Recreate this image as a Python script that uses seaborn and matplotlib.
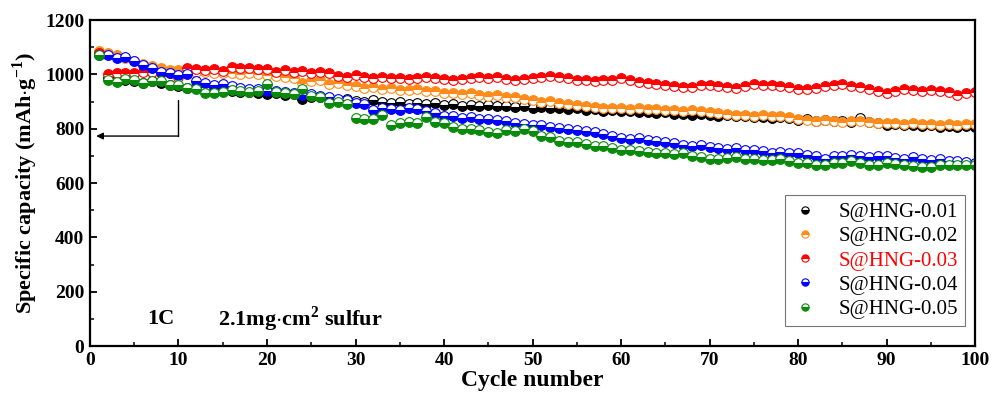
import numpy as np
import pandas as pd
import seaborn as sns
import matplotlib
matplotlib.use("Agg")
import matplotlib.pyplot as plt
from matplotlib.ticker import MultipleLocator

cycles = list(range(1, 101))

cap_001 = [1075, 985, 980, 978, 975, 970, 975, 970, 962, 958,
           950, 952, 942, 938, 940, 938, 935, 936, 930, 928,
           930, 925, 928, 910, 915, 918, 912, 905, 908, 902,
           898, 904, 900, 895, 898, 892, 895, 890, 893, 888,
           890, 885, 887, 884, 888, 882, 885, 880, 884, 878,
           880, 876, 878, 872, 875, 870, 872, 866, 868, 864,
           866, 860, 862, 858, 860, 856, 855, 852, 854, 850,
           848, 850, 846, 848, 844, 842, 840, 842, 838, 832,
           834, 830, 832, 828, 830, 826, 838, 824, 822, 815,
           816, 812, 814, 810, 812, 808, 810, 808, 810, 808]

cap_002 = [1085, 1078, 1070, 1062, 1050, 1040, 1030, 1022, 1016, 1015,
           1012, 1010, 1008, 1006, 1004, 1005, 1002, 1004, 1000, 998,
           995, 990, 985, 968, 975, 978, 965, 968, 960, 958,
           950, 952, 948, 950, 944, 942, 945, 940, 938, 930,
           932, 928, 930, 925, 922, 924, 918, 915, 910, 905,
           900, 902, 895, 890, 888, 882, 880, 878, 876, 875,
           874, 876, 872, 874, 870, 868, 866, 868, 864, 862,
           858, 855, 852, 850, 848, 850, 846, 848, 844, 835,
           832, 830, 832, 828, 826, 828, 830, 824, 822, 820,
           822, 818, 820, 816, 818, 815, 818, 814, 816, 818]

cap_003 = [1078, 1000, 1005, 1006, 1004, 1010, 1008, 1005, 1004, 992,
           1022, 1020, 1015, 1018, 1012, 1026, 1022, 1024, 1018, 1020,
           1008, 1015, 1008, 1012, 1006, 1010, 1004, 995, 990, 998,
           992, 988, 990, 985, 988, 982, 988, 992, 986, 982,
           978, 984, 988, 990, 986, 990, 984, 980, 982, 986,
           990, 995, 990, 985, 980, 978, 975, 980, 978, 985,
           980, 972, 968, 965, 962, 958, 952, 955, 960, 962,
           958, 955, 950, 958, 965, 962, 960, 958, 952, 948,
           945, 950, 958, 962, 965, 958, 952, 945, 938, 932,
           938, 945, 942, 938, 942, 940, 935, 925, 930, 935]

cap_004 = [1072, 1070, 1062, 1064, 1048, 1035, 1024, 1008, 1004, 998,
           1000, 975, 968, 962, 966, 958, 950, 948, 945, 940,
           938, 935, 930, 925, 928, 922, 918, 910, 905, 895,
           892, 870, 878, 872, 870, 875, 872, 865, 858, 848,
           845, 840, 842, 836, 835, 832, 828, 822, 818, 815,
           812, 808, 802, 798, 795, 792, 788, 780, 775, 765,
           762, 765, 760, 755, 750, 748, 740, 736, 740, 732,
           728, 725, 730, 722, 720, 718, 712, 715, 710, 712,
           705, 700, 690, 698, 700, 705, 698, 695, 700, 698,
           692, 690, 695, 688, 685, 688, 682, 680, 678, 675]

cap_005 = [1070, 978, 973, 983, 980, 968, 975, 975, 962, 960,
           950, 946, 932, 931, 935, 942, 940, 936, 938, 965,
           935, 930, 928, 948, 922, 918, 895, 898, 890, 840,
           835, 836, 852, 812, 822, 824, 820, 842, 825, 822,
           805, 798, 800, 795, 788, 785, 795, 792, 800, 790,
           772, 768, 755, 752, 750, 742, 738, 735, 728, 722,
           720, 718, 715, 712, 710, 708, 712, 700, 695, 690,
           688, 692, 695, 688, 690, 686, 684, 688, 682, 675,
           672, 668, 665, 672, 675, 680, 672, 668, 665, 672,
           670, 665, 662, 660, 658, 665, 668, 666, 668, 665]

labels = ["S@HNG-0.01", "S@HNG-0.02", "S@HNG-0.03", "S@HNG-0.04", "S@HNG-0.05"]
series = [cap_001, cap_002, cap_003, cap_004, cap_005]
colors = ["#000000", "#FF8C1A", "#FF0000", "#0000FF", "#0A8A0A"]
fills = ["bottom", "top", "top", "bottom", "bottom"]

sns.set_theme(style="ticks")
plt.rcParams["font.family"] = ["Liberation Serif", "DejaVu Serif"]
plt.rcParams["mathtext.fontset"] = "custom"
plt.rcParams["mathtext.rm"] = "Liberation Serif"
plt.rcParams["mathtext.bf"] = "Liberation Serif:bold"
for k in ["text.color", "axes.labelcolor", "xtick.color", "ytick.color",
          "axes.edgecolor"]:
    plt.rcParams[k] = "black"

fig = plt.figure(figsize=(9.92, 4.01), dpi=100)
ax = fig.add_axes([0.0907, 0.137, 0.8923, 0.813])

for lab, vals, col, fs in zip(labels, series, colors, fills):
    df = pd.DataFrame({"cycle": cycles, "cap": vals})
    sns.lineplot(data=df, x="cycle", y="cap", ax=ax, linestyle="", marker="o",
                 markersize=7.0, fillstyle=fs, color=col, markerfacecolor=col,
                 markerfacecoloralt="white", markeredgecolor=col,
                 markeredgewidth=0.8, label=lab)

# arrow annotation pointing to the left axis
ax.plot([10, 10], [905, 773], color="black", lw=1.0)
ax.annotate("", xy=(0.7, 773), xytext=(10, 773),
            arrowprops=dict(arrowstyle="-|>", color="black", lw=1.0,
                            mutation_scale=10, shrinkA=0, shrinkB=0))

ax.set_xlim(0, 100)
ax.set_ylim(0, 1200)
ax.xaxis.set_major_locator(MultipleLocator(10))
ax.xaxis.set_minor_locator(MultipleLocator(5))
ax.yaxis.set_major_locator(MultipleLocator(200))
ax.yaxis.set_minor_locator(MultipleLocator(100))
ax.tick_params(which="major", direction="in", length=5, width=1.3,
               labelsize=14, top=False, right=False, pad=4, colors="black")
ax.tick_params(which="minor", direction="in", length=3, width=1.1,
               top=False, right=False, colors="black")
for t in ax.get_xticklabels() + ax.get_yticklabels():
    t.set_fontweight("bold")
for sp in ax.spines.values():
    sp.set_linewidth(1.6)
    sp.set_color("black")

ax.set_xlabel("Cycle number", fontsize=17, fontweight="bold", labelpad=1,
              color="black")
ax.set_ylabel(r"Specific capacity (mAh$\cdot$g$^{\mathbf{-1}}$)", fontsize=16,
              fontweight="bold", labelpad=4, color="black")

ax.text(6.5, 100, "1C", fontsize=16, fontweight="bold", va="center",
        color="black")
ax.text(14.5, 100, r"2.1mg$\cdot$cm$^{\mathbf{2}}$ sulfur", fontsize=16,
        fontweight="bold", va="center", color="black")

leg = ax.legend(loc="lower right", bbox_to_anchor=(0.989, 0.061),
                borderaxespad=0, fontsize=15, frameon=True, fancybox=False,
                edgecolor="#555555", handlelength=1.2, handletextpad=1.0,
                labelspacing=0.22, markerscale=0.75, borderpad=0.35)
leg.get_frame().set_linewidth(0.8)
for i, t in enumerate(leg.get_texts()):
    t.set_color("#FF0000" if i == 2 else "black")

fig.savefig("out.png", dpi=100)
